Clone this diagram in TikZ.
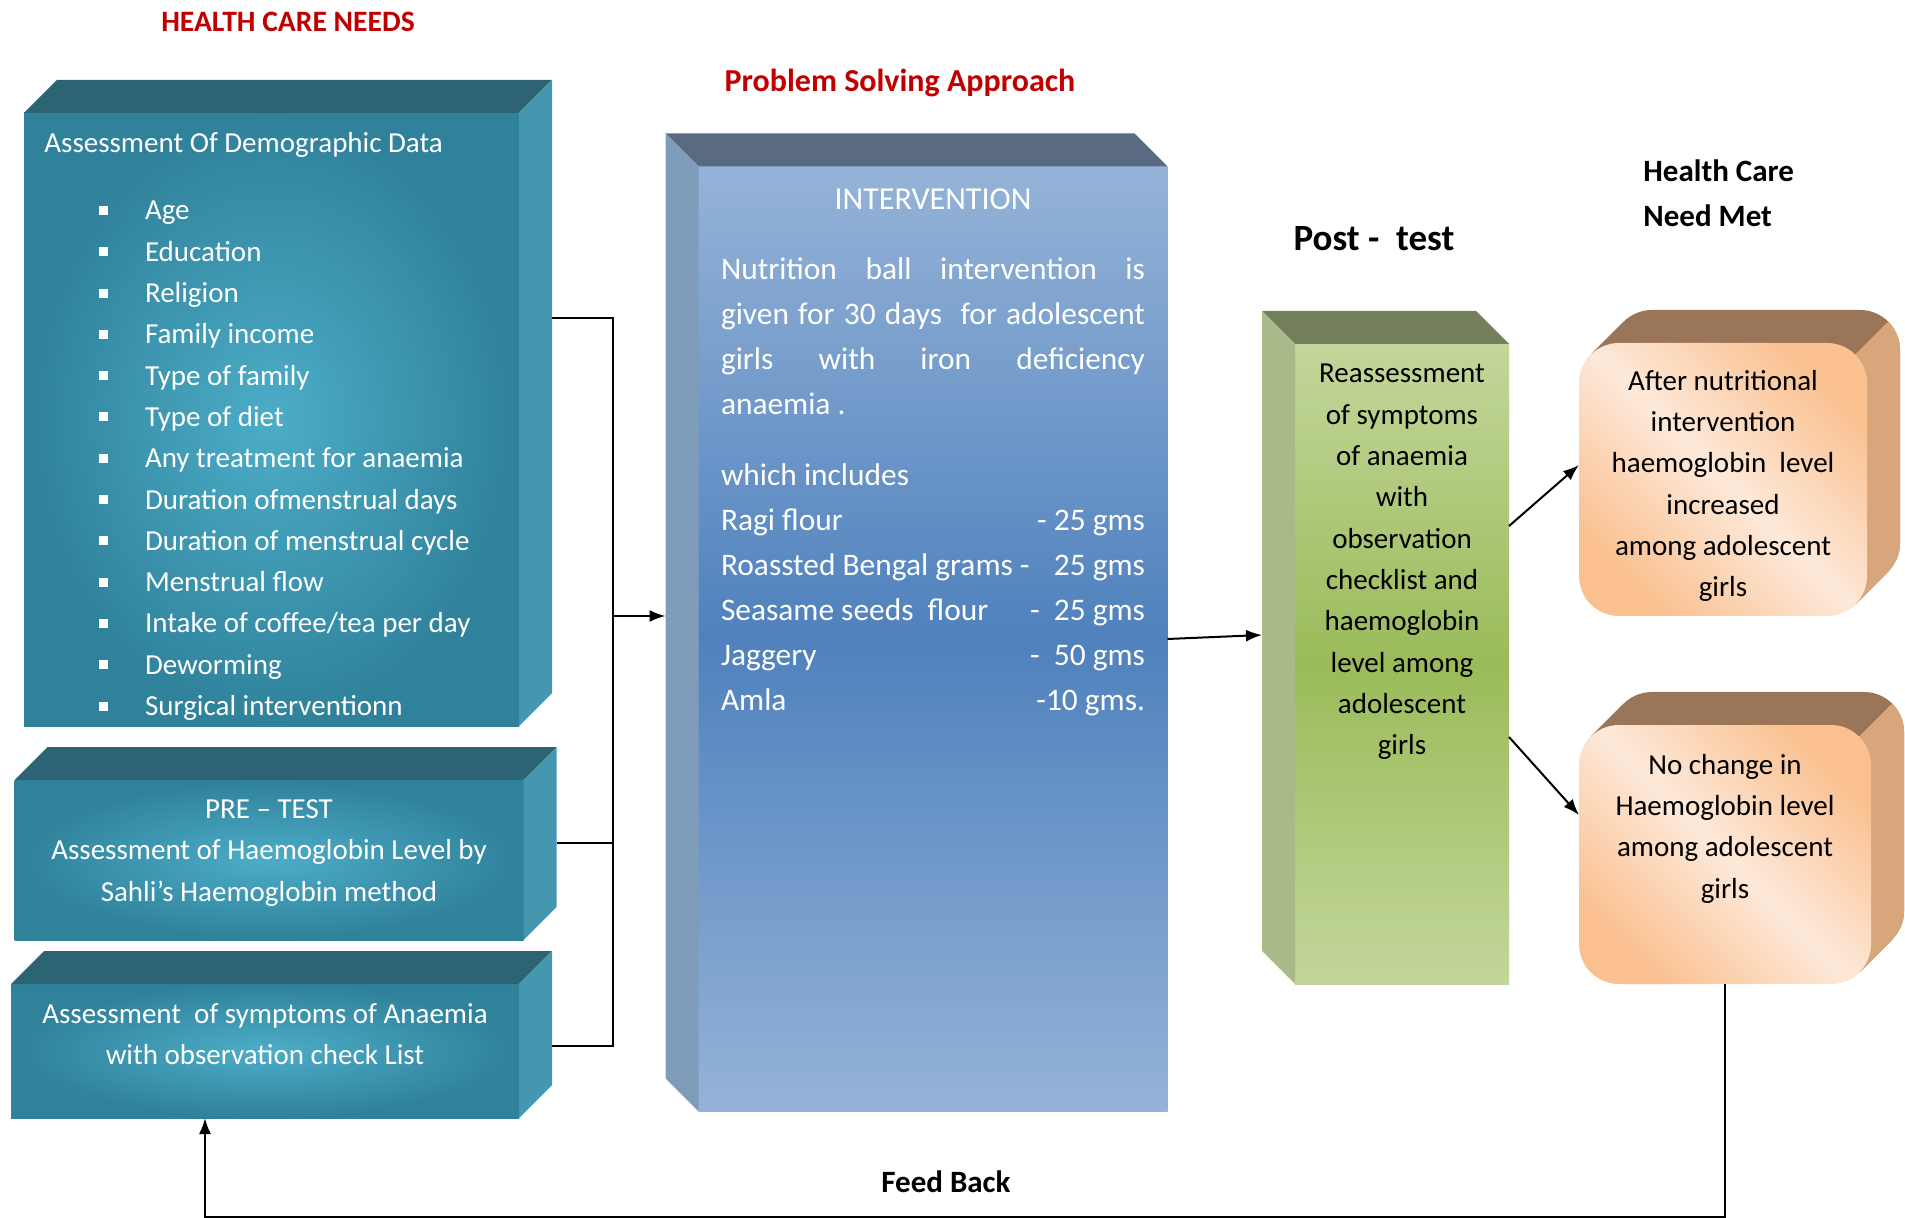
\documentclass[tikz,border=0pt]{standalone}
\usepackage{fontspec}
\setmainfont{Carlito}
\usetikzlibrary{calc,arrows.meta}

\definecolor{tealout}{HTML}{30819A}
\definecolor{tealin}{HTML}{4CADC8}
\definecolor{tealtop}{HTML}{2D6474}
\definecolor{tealside}{HTML}{4597AF}
\definecolor{ivlight}{HTML}{95B3D7}
\definecolor{ivdark}{HTML}{4F81BD}
\definecolor{ivtop}{HTML}{5A6A80}
\definecolor{ivside}{HTML}{7F9DBB}
\definecolor{grlight}{HTML}{C3D69B}
\definecolor{grdark}{HTML}{9BBB59}
\definecolor{grtop}{HTML}{737F5A}
\definecolor{grside}{HTML}{A8BA88}
\definecolor{peach}{HTML}{FAC090}
\definecolor{blush}{HTML}{FDE9D9}
\definecolor{beveltop}{HTML}{9A7557}
\definecolor{bevelside}{HTML}{D9A57B}
\definecolor{headred}{HTML}{C00000}

\def\px{0.5pt}
\def\dep{33}
\def\ivw{212pt}
% top and side faces of the blocks
\def\rightblock(#1){
  \fill[tealtop] (#1.north west) -- ++(\dep,-\dep) -- ($(#1.north east)+(\dep,-\dep)$) -- (#1.north east) -- cycle;
  \fill[tealside] (#1.north east) -- ++(\dep,-\dep) -- ($(#1.south east)+(\dep,-\dep)$) -- (#1.south east) -- cycle;}
\def\leftblock[#1,#2](#3){
  \fill[#1] (#3.north east) -- ++(-\dep,-\dep) -- ($(#3.north west)+(-\dep,-\dep)$) -- (#3.north west) -- cycle;
  \fill[#2] (#3.north west) -- ++(-\dep,-\dep) -- ($(#3.south west)+(-\dep,-\dep)$) -- (#3.south west) -- cycle;}
% rounded bevel behind the result boxes
\def\bevelback(#1){
  \foreach \k in {1,...,\dep}
    \fill[beveltop, rounded corners=20pt] ($(#1.north west)+(\k,-\k)$) rectangle ($(#1.south east)+(\k,-\k)$);
  \begin{scope}
    \clip ($(#1.north east)+(-312,312)$) -- ++(400,-400) -- ++(300,300) -- ++(-400,400) -- cycle;
    \foreach \k in {1,...,\dep}
      \fill[bevelside, rounded corners=20pt] ($(#1.north west)+(\k,-\k)$) rectangle ($(#1.south east)+(\k,-\k)$);
  \end{scope}
  \shade[rounded corners=20pt, top color=peach, bottom color=peach, middle color=blush, shading angle=-45]
    (#1.north west) rectangle (#1.south east);}

\tikzset{
  face/.style={inner sep=0pt, outer sep=0pt},
  tealface/.style={face, inner color=tealin, outer color=tealout},
  ivface/.style={face, top color=ivlight, bottom color=ivlight, middle color=ivdark},
  grface/.style={face, top color=grlight, bottom color=grlight, middle color=grdark},
  wtxt/.style={text=white, inner sep=0pt, align=center, font=\fontsize{14.5}{20.65}\selectfont},
  btxt/.style={wtxt, text=black},
  heading/.style={inner sep=0pt, font=\bfseries\fontsize{15.5}{22.5}\selectfont},
  wire/.style={line width=1pt},
  flow/.style={wire, -{Latex[length=8pt,width=6pt]}},
}

\begin{document}
\begin{tikzpicture}[x=0.5pt,y=-0.5pt]
  \useasboundingbox (0,0) rectangle (1905,1218);

  %%%%% headings %%%%%
  \node[heading, text=headred, font=\bfseries\fontsize{14.8}{18}\selectfont] (needs) at (288,22) {HEALTH CARE NEEDS};
  \node[heading, text=headred, font=\bfseries\fontsize{16}{18}\selectfont] (approach) at (900,83) {Problem Solving Approach};
  \node[heading, font=\bfseries\fontsize{18.5}{22}\selectfont] (posttest) at (1374,239) {Post -\ \ test};
  \node[heading, align=left, anchor=west] (met) at (1643,193.5) {Health Care\\Need Met};
  \node[heading] (feedback) at (946,1182) {Feed Back};

  %%%%% health care needs %%%%%
  \node[tealface, minimum width=495*\px, minimum height=613*\px] (demo) at (271.5,419.5) {};
  \rightblock(demo)
  \node[wtxt, anchor=base west] (demotitle) at (44,153) {Assessment Of Demographic Data};
  \foreach \entry [count=\i] in {Age, Education, Religion, Family income, Type of family, Type of diet,
      Any treatment for anaemia, Duration ofmenstrual days, Duration of menstrual cycle, Menstrual flow,
      Intake of coffee/tea per day, Deworming, Surgical interventionn} {
    \node[wtxt, anchor=base west] (item\i) at (144.6,{220+41.3*(\i-1)}) {\entry};
    \fill[white] ($(item\i.base west)+(-46,-14)$) rectangle ++(9,9);
  }

  \node[tealface, minimum width=509*\px, minimum height=160*\px] (pretest) at (269,860) {};
  \rightblock(pretest)
  \node[wtxt] (pretesttxt) at (269,853) {PRE – TEST\\Assessment of Haemoglobin Level by\\Sahli’s Haemoglobin method};

  \node[tealface, minimum width=508*\px, minimum height=134*\px] (symptom) at (265,1051) {};
  \rightblock(symptom)
  \node[wtxt] (symptomtxt) at (265,1034) {Assessment\ \ of symptoms of Anaemia\\with observation check List};

  %%%%% intervention %%%%%
  \node[ivface, minimum width=469*\px, minimum height=945*\px] (iv) at (933,639) {};
  \leftblock[ivtop,ivside](iv)
  \node[wtxt, font=\fontsize{16}{22.5}\selectfont] (ivtitle) at (933,199) {INTERVENTION};
  \node[wtxt, align=left, font=\fontsize{15.7}{22.5}\selectfont] (ivbody) at (933,487) {%
    \makebox[\ivw][s]{Nutrition ball intervention is}\\
    \makebox[\ivw][s]{given for 30 days\ \ for adolescent}\\
    \makebox[\ivw][s]{girls with iron deficiency}\\
    anaemia .\\[13pt]
    which includes\\
    \makebox[\ivw]{Ragi flour\hfill - 25 gms}\\
    \makebox[\ivw]{Roassted Bengal grams -\hfill 25 gms}\\
    \makebox[\ivw]{Seasame seeds\ \ flour\hfill -\ \ 25 gms}\\
    \makebox[\ivw]{Jaggery\hfill -\ \ 50 gms}\\
    \makebox[\ivw]{Amla\hfill -10 gms.}};

  %%%%% post test %%%%%
  \node[grface, minimum width=214*\px, minimum height=640*\px] (recheck) at (1402,664) {};
  \leftblock[grtop,grside](recheck)
  \node[btxt] (rechecktxt) at (1402,562) {Reassessment\\of symptoms\\of anaemia\\with\\observation\\checklist and\\haemoglobin\\level among\\adolescent\\girls};

  %%%%% need met %%%%%
  \node[face, minimum width=288*\px, minimum height=273*\px] (gain) at (1723,479.5) {};
  \bevelback(gain)
  \node[btxt] (gaintxt) at (1723,486) {After nutritional\\intervention\\haemoglobin\ \ level\\increased\\among adolescent\\girls};

  \node[face, minimum width=292*\px, minimum height=259*\px] (nochange) at (1725,854.5) {};
  \bevelback(nochange)
  \node[btxt] (nochangetxt) at (1725,828.5) {No change in\\Haemoglobin level\\among adolescent\\girls};

  %%%%% connectors %%%%%
  \coordinate (bus) at (613,616);
  \draw[wire] ($(demo.north east)+(\dep,205)$) -| (bus);
  \draw[wire] ($(pretest.east)+(\dep,-17)$) -| (bus);
  \draw[wire] ($(symptom.east)+(\dep,-5)$) -| (bus);
  \draw[flow] (bus) -- ($(iv.west)+(-\dep,-23)$);
  \draw[flow] (iv.east) -- ($(recheck.west)+(-\dep,-29)$);
  \draw[flow] ($(recheck.east)+(0,-138)$) -- ($(gain.west)+(0,-14.5)$);
  \draw[flow] ($(recheck.east)+(0,73)$) -- ($(nochange.west)+(0,-39.5)$);
  \coordinate (fb) at (205,1216.5);
  \draw[flow] (nochange.south) |- (fb) -- (fb |- symptom.south);
\end{tikzpicture}
\end{document}
